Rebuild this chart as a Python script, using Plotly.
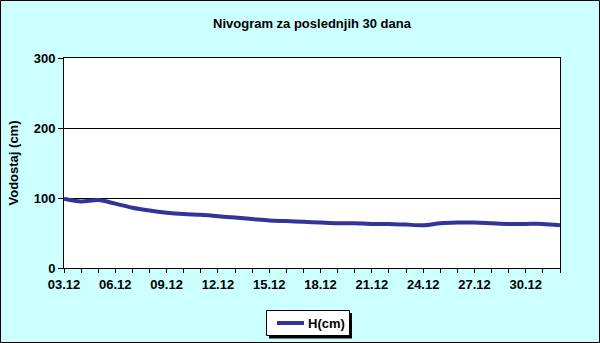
import plotly.graph_objects as go

categories = ["03.12", "04.12", "05.12", "06.12", "07.12", "08.12", "09.12", "10.12",
              "11.12", "12.12", "13.12", "14.12", "15.12", "16.12", "17.12", "18.12",
              "19.12", "20.12", "21.12", "22.12", "23.12", "24.12", "25.12", "26.12",
              "27.12", "28.12", "29.12", "30.12", "31.12", "01.01"]
h_cm = [99, 95, 97, 92, 86, 82, 79, 77, 76, 74, 72, 70, 68, 67, 66, 65,
        64, 64, 63, 63, 62, 61, 64, 65, 65, 64, 63, 63, 63, 61]
tick_labels = [c if i % 3 == 0 else "" for i, c in enumerate(categories)]
y_ticks = [0, 100, 200, 300]
series_name = "H(cm)"
line_color = "#333399"

W, H = 600, 343
L, R, T, B = 64, 40, 58, 75
pw, ph = W - L - R, H - T - B

def px(x):
    return (x - L) / pw

def py(y):
    return (H - B - y) / ph

font = dict(family="Liberation Sans, Arial, sans-serif", size=13, color="black")

fig = go.Figure()
fig.add_trace(go.Scatter(
    x=categories, y=h_cm, mode="lines", name=series_name,
    line=dict(color=line_color, width=4, shape="spline", smoothing=0.8),
))

fig.update_layout(
    width=W, height=H,
    margin=dict(l=L, r=R, t=T, b=B, pad=0, autoexpand=False),
    paper_bgcolor="#CCFFFF", plot_bgcolor="white",
    font=font,
    title=dict(text="<b>Nivogram za poslednjih 30 dana</b>", x=px(312), xref="paper",
               xanchor="center", y=1 - 23.5 / H, yanchor="middle", font=dict(size=13)),
    showlegend=False,
    xaxis=dict(type="category", categoryorder="array", categoryarray=categories,
               range=[0, len(categories) - 1], tickmode="array",
               tickvals=categories, ticktext=["<b>%s</b>" % t if t else "" for t in tick_labels],
               ticks="outside", ticklen=4, tickcolor="black", tickwidth=1,
               showline=True, linecolor="black", linewidth=1, mirror=True,
               showgrid=False, zeroline=False, tickangle=0),
    yaxis=dict(range=[0, 300], tickmode="array", tickvals=y_ticks,
               ticktext=["<b>%d</b>" % v for v in y_ticks],
               ticks="outside", ticklen=5, tickcolor="black",
               showline=True, linecolor="black", linewidth=1, mirror=True,
               showgrid=True, gridcolor="black", gridwidth=1, zeroline=False,
               title=dict(text="<b>Vodostaj (cm)</b>", standoff=12, font=dict(size=13))),
)

# legend: shadow, box, sample line, label
fig.add_shape(type="rect", xref="paper", yref="paper",
              x0=px(269), x1=px(352), y0=py(338.5), y1=py(313),
              fillcolor="black", line=dict(width=0))
fig.add_shape(type="rect", xref="paper", yref="paper",
              x0=px(266.5), x1=px(349.5), y0=py(335.5), y1=py(310.5),
              fillcolor="white", line=dict(color="black", width=1))
fig.add_shape(type="line", xref="paper", yref="paper",
              x0=px(277), x1=px(304), y0=py(323), y1=py(323),
              line=dict(color=line_color, width=4))
fig.add_annotation(xref="paper", yref="paper", x=px(306), y=py(323),
                   xanchor="left", yanchor="middle", showarrow=False,
                   text="<b>%s</b>" % series_name, font=dict(size=13))
# outer border
fig.add_shape(type="rect", xref="paper", yref="paper",
              x0=px(0.5), x1=px(599.5), y0=py(342.5), y1=py(0.5),
              line=dict(color="black", width=1), fillcolor="rgba(0,0,0,0)")

fig.write_html("out.html")
